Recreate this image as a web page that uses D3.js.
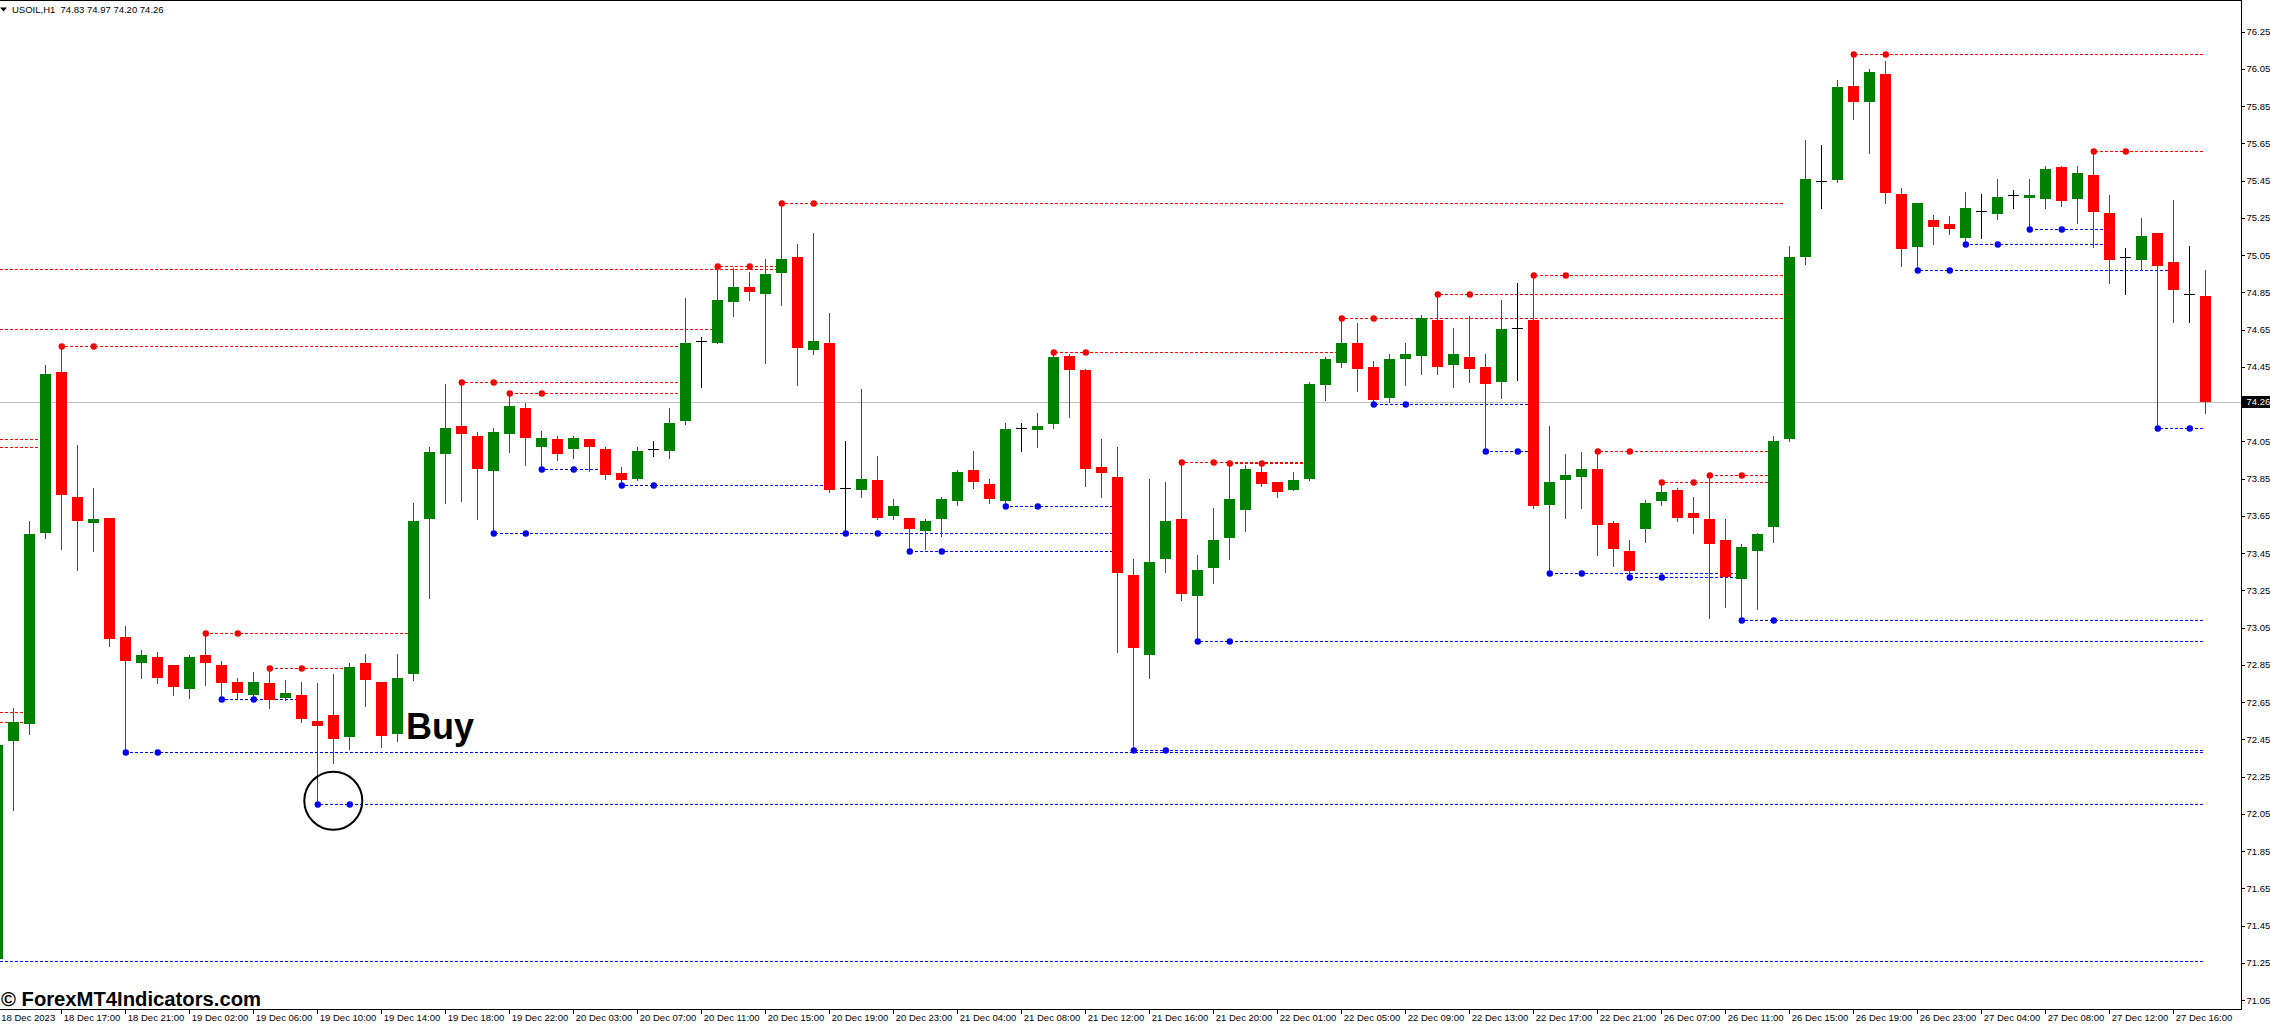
<!DOCTYPE html>
<html><head><meta charset="utf-8">
<script src="https://cdn.jsdelivr.net/npm/d3@7"></script>
<style>
html,body{margin:0;padding:0;background:#fff;overflow:hidden;}
svg{display:block;}
text{font-family:"Liberation Sans", Arial, sans-serif;}
</style></head><body>
<svg id="chart" width="2270" height="1025"></svg>
<script>
// ---------- DATA (USOIL, H1) ----------
const opens = [
71.27,72.44,72.53,73.56,74.42,73.75,73.61,73.64,73.00,72.86,
72.89,72.85,72.72,72.905,72.85,72.76,72.69,72.75,72.67,72.69,
72.55,72.58,72.46,72.86,72.76,72.48,72.80,73.63,73.98,74.13,
74.08,73.89,74.09,74.23,74.02,74.06,74.01,74.06,74.01,73.88,
73.85,74.01,74.00,74.16,74.59,74.58,74.80,74.88,74.84,74.955,
75.04,74.54,74.58,73.80,73.79,73.84,73.65,73.64,73.57,73.63,
73.73,73.895,73.82,73.73,74.12,74.11,74.14,74.51,74.43,73.91,
73.86,73.33,72.90,73.42,73.63,73.22,73.37,73.53,73.68,73.885,
73.83,73.79,73.85,74.35,74.47,74.58,74.45,74.28,74.49,74.51,
74.70,74.46,74.50,74.45,74.37,74.66,74.70,73.71,73.84,73.86,
73.90,73.61,73.46,73.58,73.73,73.79,73.665,73.63,73.52,73.31,
73.46,73.59,74.06,75.04,75.445,75.45,75.96,75.87,76.02,75.38,
75.095,75.24,75.215,75.14,75.285,75.27,75.37,75.355,75.35,75.52,
75.35,75.48,75.275,75.04,75.025,75.17,75.01,74.84,74.83];
const highs = [
72.43,72.62,73.62,74.46,74.56,74.03,73.80,73.64,73.06,72.93,
72.92,72.85,72.90,73.02,72.87,72.78,72.81,72.83,72.77,72.76,
72.75,72.80,72.86,72.91,72.76,72.91,73.72,74.02,74.36,74.37,
74.10,74.12,74.31,74.255,74.105,74.08,74.08,74.06,74.02,73.91,
74.02,74.05,74.23,74.82,74.61,74.99,74.98,74.96,75.03,75.33,
75.11,75.17,74.74,74.05,74.33,73.97,73.74,73.64,73.63,73.75,
73.895,74.00,73.85,74.15,74.15,74.20,74.53,74.52,74.44,74.06,
74.02,73.42,73.85,73.83,73.94,73.44,73.69,73.935,73.92,73.92,
73.83,73.885,74.37,74.50,74.71,74.685,74.48,74.52,74.58,74.73,
74.84,74.66,74.72,74.52,74.81,74.90,74.94,74.13,73.98,73.99,
74.00,73.62,73.52,73.735,73.83,73.80,73.75,73.87,73.63,73.50,
73.56,74.08,75.10,75.67,75.64,75.99,76.13,76.05,76.09,75.41,
75.33,75.265,75.26,75.39,75.38,75.46,75.40,75.46,75.53,75.53,
75.53,75.61,75.37,75.09,75.25,75.17,75.345,75.10,74.97];
const lows = [
71.26,72.07,72.48,73.53,73.47,73.36,73.46,72.95,72.38,72.78,
72.75,72.69,72.67,72.74,72.665,72.67,72.665,72.62,72.66,72.54,
72.10,72.32,72.40,72.63,72.41,72.44,72.77,73.21,73.72,73.73,
73.63,73.56,73.99,73.92,73.90,73.95,73.96,73.89,73.85,73.815,
73.84,73.97,73.96,74.14,74.34,74.58,74.72,74.81,74.47,74.78,
74.35,74.52,73.78,73.56,73.75,73.63,73.63,73.46,73.47,73.54,
73.71,73.80,73.72,73.70,74.00,74.02,74.12,74.18,73.81,73.75,
72.92,72.39,72.78,73.35,73.20,72.98,73.29,73.42,73.57,73.81,
73.75,73.79,73.84,74.27,74.45,74.32,74.25,74.26,74.35,74.41,
74.41,74.34,74.37,74.00,74.28,74.38,73.69,73.345,73.64,73.69,
73.44,73.38,73.32,73.51,73.71,73.62,73.56,73.10,73.16,73.09,
73.15,73.51,74.05,75.00,75.30,75.44,75.78,75.60,75.33,74.99,
74.97,75.11,75.165,75.11,75.14,75.245,75.30,75.19,75.30,75.315,
75.22,75.095,74.90,74.84,74.97,74.12,74.69,74.69,74.20];
const closes = [
72.42,72.54,73.55,74.41,73.76,73.62,73.63,72.99,72.87,72.905,
72.78,72.73,72.89,72.86,72.75,72.70,72.76,72.66,72.70,72.56,
72.52,72.45,72.84,72.77,72.47,72.78,73.62,73.99,74.12,74.09,
73.90,74.10,74.24,74.07,74.07,73.98,74.07,74.02,73.87,73.84,
74.00,74.01,74.15,74.58,74.59,74.81,74.88,74.85,74.95,75.03,
74.55,74.59,73.79,73.80,73.85,73.64,73.70,73.58,73.62,73.74,
73.885,73.83,73.74,74.115,74.12,74.13,74.50,74.43,73.90,73.88,
73.34,72.94,73.40,73.62,73.23,73.36,73.52,73.74,73.90,73.82,
73.78,73.84,74.36,74.49,74.58,74.44,74.27,74.49,74.52,74.71,
74.45,74.52,74.44,74.36,74.65,74.66,73.70,73.83,73.87,73.90,
73.60,73.47,73.355,73.72,73.78,73.64,73.64,73.50,73.32,73.48,
73.55,74.05,75.04,75.46,75.445,75.95,75.87,76.03,75.385,75.08,
75.33,75.20,75.19,75.30,75.285,75.36,75.37,75.37,75.51,75.34,
75.49,75.28,75.025,75.04,75.15,74.99,74.86,74.84,74.26];

// fractal resistance (red) : pivot bar -> bar where the line stops (null = still active)
const resistancePivots = [4,13,17,29,32,45,49,66,74,77,84,90,96,100,104,107,116,131];
const resistanceEnds   = [43,26,22,43,43,49,112,84,82,82,112,112,112,111,111,111,null,null];
// resistance lines coming from bars left of the view
const resistanceCarryPrices = [74.975,74.655,74.06,74.02,72.595,72.54];
const resistanceCarryEnds   = [49,45,3,3,2,2];
// fractal support (blue)
const supportPivots = [8,14,20,31,34,39,53,57,63,71,75,86,93,97,102,109,120,123,127,135];
const supportEnds   = [null,19,null,70,38,52,70,70,70,null,null,96,96,109,109,null,136,132,132,null];
const supportCarryPrices = [71.26];
const supportCarryEnds   = [null];

const currentPrice = 74.26;
const headerText = "USOIL,H1  74.83 74.97 74.20 74.26";

const priceTicks = [71.05,71.25,71.45,71.65,71.85,72.05,72.25,72.45,72.65,72.85,73.05,73.25,73.45,
  73.65,73.85,74.05,74.25,74.45,74.65,74.85,75.05,75.25,75.45,75.65,75.85,76.05,76.25];
const timeTickBars = [0,4,8,12,16,20,24,28,32,36,40,44,48,52,56,60,64,68,72,76,80,84,88,92,96,100,
  104,108,112,116,120,124,128,132,136];
const timeTickLabels = ["18 Dec 2023","18 Dec 17:00","18 Dec 21:00","19 Dec 02:00","19 Dec 06:00",
  "19 Dec 10:00","19 Dec 14:00","19 Dec 18:00","19 Dec 22:00","20 Dec 03:00","20 Dec 07:00",
  "20 Dec 11:00","20 Dec 15:00","20 Dec 19:00","20 Dec 23:00","21 Dec 04:00","21 Dec 08:00",
  "21 Dec 12:00","21 Dec 16:00","21 Dec 20:00","22 Dec 01:00","22 Dec 05:00","22 Dec 09:00",
  "22 Dec 13:00","22 Dec 17:00","22 Dec 21:00","26 Dec 07:00","26 Dec 11:00","26 Dec 15:00",
  "26 Dec 19:00","26 Dec 23:00","27 Dec 04:00","27 Dec 08:00","27 Dec 12:00","27 Dec 16:00"];

// ---------- LAYOUT ----------
const plotRight = 2241, plotBottom = 1009;
const nBars = opens.length;
const x = d3.scaleLinear().domain([0, nBars - 1]).range([-2.7, 2205.3]);
const step = x(1) - x(0);
const y = d3.scaleLinear().domain([71.05, 76.25]).range([1000, 31.5]);
const GREEN = "#008000", RED = "#FF0000", BLUE = "#0000FF";
const FS = 9.5;
const DASH = 5; // period of the 3-on 2-off dash pattern

const svg = d3.select("#chart");
svg.append("rect").attr("width", 2270).attr("height", 1025).attr("fill", "#fff");
svg.append("defs").append("clipPath").attr("id", "plotClip")
  .append("rect").attr("x", 0).attr("y", 1).attr("width", plotRight).attr("height", plotBottom - 1);

const plot = svg.append("g").attr("clip-path", "url(#plotClip)");
const py = v => Math.round(y(v)) + 0.5;

// current price line
plot.append("line").attr("x1", 0).attr("x2", plotRight)
  .attr("y1", py(currentPrice)).attr("y2", py(currentPrice))
  .attr("stroke", "#C0C0C0").attr("stroke-width", 1).attr("shape-rendering", "crispEdges");

// level lines
function levelEndX(e) { return e == null ? x(nBars - 1) : x(e) - step * 0.35; }
const levels = [];
resistancePivots.forEach((p, k) => levels.push({price: highs[p], p, end: resistanceEnds[k], color: RED}));
resistanceCarryPrices.forEach((v, k) => levels.push({price: v, p: null, end: resistanceCarryEnds[k], color: RED}));
supportPivots.forEach((p, k) => levels.push({price: lows[p], p, end: supportEnds[k], color: BLUE}));
supportCarryPrices.forEach((v, k) => levels.push({price: v, p: null, end: supportCarryEnds[k], color: BLUE}));

const lx1 = d => d.p == null ? 0 : Math.round(x(d.p));
plot.append("g").selectAll("line").data(levels).join("line")
  .attr("x1", lx1)
  .attr("x2", d => levelEndX(d.end))
  .attr("y1", d => py(d.price)).attr("y2", d => py(d.price))
  .attr("stroke", d => d.color).attr("stroke-width", 1)
  .attr("stroke-dasharray", "3,2")
  .attr("stroke-dashoffset", d => ((lx1(d) % DASH) + DASH) % DASH)
  .attr("shape-rendering", "crispEdges");

// candles
const bars = d3.range(nBars).map(i => ({i, o: opens[i], h: highs[i], l: lows[i], c: closes[i]}));
const col = d => d.c > d.o ? GREEN : (d.c < d.o ? RED : "#000");
const cg = plot.append("g").attr("shape-rendering", "crispEdges");
const cx = d => Math.round(x(d.i));
cg.selectAll("line.wick").data(bars).join("line").attr("class", "wick")
  .attr("x1", d => cx(d) + 0.5).attr("x2", d => cx(d) + 0.5)
  .attr("y1", d => Math.round(y(d.h))).attr("y2", d => Math.round(y(d.l)) + 1)
  .attr("stroke", col).attr("stroke-width", 1);
cg.selectAll("rect.body").data(bars.filter(d => d.o !== d.c)).join("rect").attr("class", "body")
  .attr("x", d => cx(d) - 5).attr("width", 11)
  .attr("y", d => Math.round(y(Math.max(d.o, d.c))))
  .attr("height", d => Math.max(1, Math.round(y(Math.min(d.o, d.c))) - Math.round(y(Math.max(d.o, d.c)))))
  .attr("fill", col);
cg.selectAll("line.doji").data(bars.filter(d => d.o === d.c)).join("line").attr("class", "doji")
  .attr("x1", d => cx(d) - 5).attr("x2", d => cx(d) + 6)
  .attr("y1", d => py(d.c)).attr("y2", d => py(d.c))
  .attr("stroke", "#000").attr("stroke-width", 1);

// fractal dots (pivot bar and confirmation bar)
const dots = [];
levels.filter(d => d.p != null).forEach(d => {
  dots.push({b: d.p, price: d.price, color: d.color});
  dots.push({b: d.p + 2, price: d.price, color: d.color});
});
plot.append("g").selectAll("circle").data(dots).join("circle")
  .attr("cx", d => x(d.b) + 0.5).attr("cy", d => py(d.price)).attr("r", 3.2)
  .attr("fill", d => d.color);

// ---------- AXES ----------
const yAxis = d3.axisRight(y).tickValues(priceTicks).tickSize(3).tickPadding(2)
  .tickFormat(d3.format(".2f"));
const gy = svg.append("g").attr("transform", `translate(${plotRight + 0.5},0)`).call(yAxis);
gy.select(".domain").remove();
gy.selectAll("text").attr("font-size", FS).attr("font-family", "Liberation Sans, Arial, sans-serif").attr("fill", "#000");
gy.selectAll("line").attr("stroke", "#000").attr("shape-rendering", "crispEdges");

const xAxis = d3.axisBottom(x).tickValues(timeTickBars).tickSize(4).tickPadding(1)
  .tickFormat((d, k) => timeTickLabels[k]);
const gx = svg.append("g").attr("transform", `translate(0,${plotBottom + 0.5})`).call(xAxis);
gx.select(".domain").remove();
gx.selectAll("text").attr("text-anchor", "start").attr("x", (d, k) => k === 0 ? 3.5 : 2)
  .attr("font-size", FS).attr("font-family", "Liberation Sans, Arial, sans-serif").attr("fill", "#000");
gx.selectAll(".tick line").attr("stroke", (d, k) => k === 0 ? "none" : "#000").attr("shape-rendering", "crispEdges");

// frame
const frame = svg.append("g").attr("stroke", "#000").attr("stroke-width", 1).attr("shape-rendering", "crispEdges");
frame.append("line").attr("x1", 0).attr("x2", plotRight + 0.5).attr("y1", 0.5).attr("y2", 0.5);
frame.append("line").attr("x1", plotRight + 0.5).attr("x2", plotRight + 0.5).attr("y1", 0).attr("y2", plotBottom + 0.5);
frame.append("line").attr("x1", 0).attr("x2", plotRight + 0.5).attr("y1", plotBottom + 0.5).attr("y2", plotBottom + 0.5);

// current price label
svg.append("rect").attr("x", plotRight + 1).attr("y", Math.round(y(currentPrice)) - 6)
  .attr("width", 2270 - plotRight - 1).attr("height", 12).attr("fill", "#000");
svg.append("text").attr("x", plotRight + 5.5).attr("y", y(currentPrice)).attr("dy", "0.32em")
  .attr("font-size", FS).attr("fill", "#fff").text(currentPrice.toFixed(2));

// header
svg.append("path").attr("d", "M0,7.5 L7,7.5 L3.5,11.5 Z").attr("fill", "#000");
svg.append("text").attr("x", 12).attr("y", 13).attr("font-size", FS).attr("fill", "#000")
  .style("white-space", "pre").text(headerText);

// annotations
svg.append("text").attr("x", 406).attr("y", 739).attr("font-size", 36).attr("font-weight", "bold")
  .attr("font-family", "Liberation Sans, Arial, sans-serif").attr("fill", "#000").text("Buy");
svg.append("circle").attr("cx", x(21)).attr("cy", y(72.12)).attr("r", 29)
  .attr("fill", "none").attr("stroke", "#000").attr("stroke-width", 2);
svg.append("text").attr("x", 1).attr("y", 1006).attr("font-size", 20).attr("font-weight", "bold")
  .attr("font-family", "DejaVu Sans, Verdana, sans-serif").attr("fill", "#000")
  .attr("textLength", 260).attr("lengthAdjust", "spacingAndGlyphs")
  .text("\u00A9 ForexMT4Indicators.com");
</script>
</body></html>
